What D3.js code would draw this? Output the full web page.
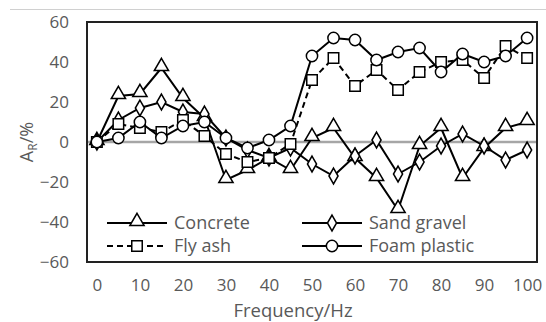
<!DOCTYPE html>
<html>
<head>
<meta charset="utf-8">
<script src="https://cdn.jsdelivr.net/npm/d3@7"></script>
<style>
  html, body { margin: 0; padding: 0; background: #fff; }
  svg { display: block; }
  text { font-family: "Open Sans", "Liberation Sans", sans-serif; fill: #595959; }
</style>
</head>
<body>
<svg id="chart" width="546" height="322"></svg>
<script>
// Frequency steps (Hz) and reflection amplitude A_R (%) for each backfill material
const frequencies = [0, 5, 10, 15, 20, 25, 30, 35, 40, 45, 50, 55, 60, 65, 70, 75, 80, 85, 90, 95, 100];
const concrete    = [0, 23, 24, 37, 22, 12, -19, -14, -8, -14, 2, 7, -8, -18, -34, -2, 7, -18, -3, 7, 10];
const sandGravel  = [0, 11, 17, 20, 15, 14, 2, -4, -8, -3, -11, -17, -7, 1, -16, -10, -2, 4, -2, -9, -4];
const flyAsh      = [0, 9, 7, 5, 11, 3, -6, -10, -8, -1, 31, 42, 28, 36, 26, 35, 40, 41, 32, 48, 42];
const foamPlastic = [0, 2, 10, 2, 8, 10, 2, -3, 1, 8, 43, 52, 51, 41, 45, 47, 35, 44, 40, 43, 52];

const xTicks = [0, 10, 20, 30, 40, 50, 60, 70, 80, 90, 100];
const yTicks = [-60, -40, -20, 0, 20, 40, 60];

const seriesList = [
  { name: "Concrete",     values: concrete,    marker: "triangle", dashed: false },
  { name: "Sand gravel",  values: sandGravel,  marker: "diamond",  dashed: false },
  { name: "Fly ash",      values: flyAsh,      marker: "square",   dashed: true  },
  { name: "Foam plastic", values: foamPlastic, marker: "circle",   dashed: false }
];

const svg = d3.select("#chart");
const plot = { left: 87, right: 537, top: 22, bottom: 262 };

const x = d3.scaleLinear().domain([-2.3, 102.3]).range([plot.left, plot.right]);
const y = d3.scaleLinear().domain([-60, 60]).range([plot.bottom, plot.top]);

// thin rule across the top of the chart area
svg.append("line")
  .attr("x1", 10).attr("x2", 546).attr("y1", 9.5).attr("y2", 9.5)
  .attr("stroke", "#d0d0d0").attr("stroke-width", 1);

// zero reference line
svg.append("line")
  .attr("x1", plot.left).attr("x2", plot.right)
  .attr("y1", y(0)).attr("y2", y(0))
  .attr("stroke", "#a6a6a6").attr("stroke-width", 2.5);

// axes (labels only, the frame is drawn separately)
const tickFont = 17;
const xAxis = d3.axisBottom(x).tickValues(xTicks).tickSize(0).tickPadding(0);
const gx = svg.append("g").attr("transform", `translate(0, ${plot.bottom + 17})`).call(xAxis);
gx.select(".domain").remove();
gx.selectAll("text").attr("font-size", tickFont).attr("dy", "0.71em").attr("fill", "#595959")
  .style("font-family", "'Open Sans', 'Liberation Sans', sans-serif");

const yAxis = d3.axisLeft(y).tickValues(yTicks).tickSize(0).tickPadding(0);
const gy = svg.append("g").attr("transform", `translate(${plot.left - 18}, 0)`).call(yAxis);
gy.select(".domain").remove();
gy.selectAll("text").attr("font-size", tickFont).attr("fill", "#595959")
  .style("font-family", "'Open Sans', 'Liberation Sans', sans-serif");

// axis titles
svg.append("text")
  .attr("x", 293).attr("y", 317)
  .attr("text-anchor", "middle").attr("font-size", 18.5)
  .text("Frequency/Hz");

const yTitle = svg.append("text")
  .attr("transform", `translate(33, ${y(0)}) rotate(-90)`)
  .attr("text-anchor", "middle").attr("font-size", 18);
yTitle.append("tspan").text("A");
yTitle.append("tspan").attr("font-size", 12).attr("dy", 4).text("R");
yTitle.append("tspan").attr("dy", -4).text("/%");

// marker symbols
const symbolFor = {
  triangle: d3.symbol().type(d3.symbolTriangle).size(88),
  diamond:  d3.symbol().type(d3.symbolDiamond).size(72),
  square:   d3.symbol().type(d3.symbolSquare).size(110),
  circle:   d3.symbol().type(d3.symbolCircle).size(100)
};
const markerOffset = { triangle: -1.5, diamond: 0, square: 0, circle: 0 };

function drawMarker(g, kind, cx, cy) {
  g.append("path")
    .attr("d", symbolFor[kind]())
    .attr("transform", `translate(${cx}, ${cy + markerOffset[kind]})`)
    .attr("fill", "#fff")
    .attr("stroke", "#000")
    .attr("stroke-width", 1.5);
}

const line = d3.line().x((d, i) => x(frequencies[i])).y(d => y(d));

const dataLayer = svg.append("g");
seriesList.forEach(s => {
  const g = dataLayer.append("g");
  g.append("path")
    .datum(s.values)
    .attr("d", line)
    .attr("fill", "none")
    .attr("stroke", "#000")
    .attr("stroke-width", 2)
    .attr("stroke-dasharray", s.dashed ? "6,4" : null);
  s.values.forEach((v, i) => drawMarker(g, s.marker, x(frequencies[i]), y(v)));
});

// legend, two columns inside the bottom of the plot
const legendCols = [107, 302];
const legendRows = [223, 246];
seriesList.forEach((s, k) => {
  const col = k % 2 === 0 ? 0 : 1;
  const row = k < 2 ? 0 : 1;
  const lx = legendCols[col];
  const ly = legendRows[row];
  const g = svg.append("g");
  g.append("line")
    .attr("x1", lx).attr("x2", lx + 60)
    .attr("y1", ly).attr("y2", ly)
    .attr("stroke", "#000").attr("stroke-width", 2)
    .attr("stroke-dasharray", s.dashed ? "6,4" : null);
  drawMarker(g, s.marker, lx + 30, ly);
  g.append("text")
    .attr("x", lx + 67).attr("y", ly)
    .attr("dy", "0.35em")
    .attr("font-size", 18)
    .text(s.name);
});

// plot frame
svg.append("rect")
  .attr("x", plot.left).attr("y", plot.top)
  .attr("width", plot.right - plot.left).attr("height", plot.bottom - plot.top)
  .attr("fill", "none").attr("stroke", "#222").attr("stroke-width", 2);
</script>
</body>
</html>
